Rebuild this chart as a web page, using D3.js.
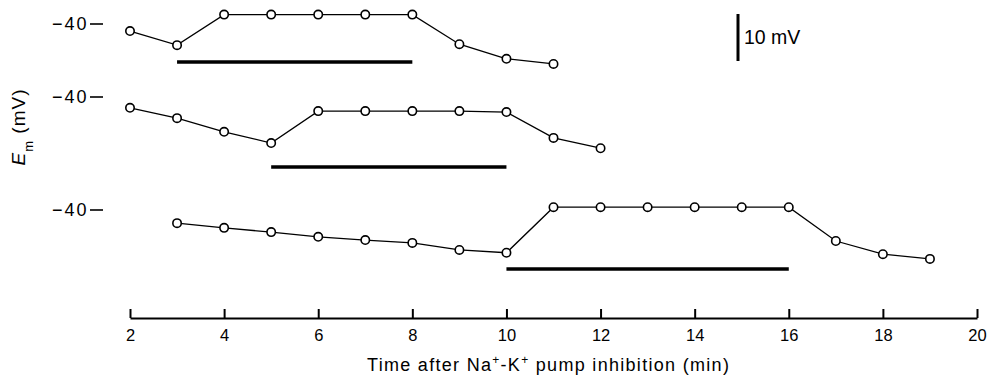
<!DOCTYPE html>
<html><head><meta charset="utf-8">
<script src="https://cdn.jsdelivr.net/npm/d3@7"></script>
<style>body{margin:0;background:#fff}svg{display:block;font-family:"Liberation Sans",Arial,sans-serif}</style>
</head><body><svg id="c" width="989" height="375"></svg>
<script>
// Data
const times1 = [2,3,4,5,6,7,8,9,10,11];
const em1 = [-41.5,-44.5,-38.0,-38.0,-38.0,-38.0,-38.0,-44.3,-47.4,-48.5];
const times2 = [2,3,4,5,6,7,8,9,10,11,12];
const em2 = [-42.3,-44.5,-47.4,-49.8,-43.0,-43.0,-43.0,-43.0,-43.2,-48.7,-50.9];
const times3 = [3,4,5,6,7,8,9,10,11,12,13,14,15,16,17,18,19];
const em3 = [-42.8,-43.8,-44.7,-45.7,-46.4,-47.0,-48.5,-49.1,-39.4,-39.4,-39.4,-39.4,-39.4,-39.4,-46.6,-49.4,-50.4];
const inhib1 = [3,8];
const inhib2 = [5,10];
const inhib3 = [10,16];
const xTicks = [2,4,6,8,10,12,14,16,18,20];
const refLevel = -40;
const scaleBarMV = 10;

const svg = d3.select("#c");
const x = d3.scaleLinear().domain([2,20]).range([130,977]);
const pxPerMV = 4.7;
function yFor(base){ return d3.scaleLinear().domain([-40,-50]).range([base, base + 10*pxPerMV]); }

const traces = [
  {t:times1, v:em1, bar:inhib1, y:yFor(24), barY:62},
  {t:times2, v:em2, bar:inhib2, y:yFor(97), barY:167},
  {t:times3, v:em3, bar:inhib3, y:yFor(210), barY:269}
];

traces.forEach(tr => {
  const pts = tr.t.map((t,i)=>[t, tr.v[i]]);
  const yy = tr.y(refLevel);
  svg.append("text").attr("x",52).attr("y",yy).attr("dy","0.36em").attr("text-anchor","start")
    .attr("font-size",18).attr("letter-spacing",2).text("\u221240");
  svg.append("line").attr("x1",90).attr("x2",103).attr("y1",yy).attr("y2",yy)
    .attr("stroke","#000").attr("stroke-width",1.6);
  svg.append("path").datum(pts)
    .attr("d", d3.line().x(d=>x(d[0])).y(d=>tr.y(d[1])))
    .attr("fill","none").attr("stroke","#000").attr("stroke-width",1.3);
  svg.selectAll(null).data(pts).enter().append("circle")
    .attr("cx",d=>x(d[0])).attr("cy",d=>tr.y(d[1])).attr("r",4.2)
    .attr("fill","#fff").attr("stroke","#000").attr("stroke-width",1.6);
  svg.append("line").attr("x1",x(tr.bar[0])).attr("x2",x(tr.bar[1]))
    .attr("y1",tr.barY).attr("y2",tr.barY).attr("stroke","#000").attr("stroke-width",3.5);
});

// scale bar
const sb = traces[0].y;
const sbTop = 14;
svg.append("line").attr("x1",738).attr("x2",738).attr("y1",sbTop)
  .attr("y2",sbTop + (sb(-50)-sb(-40))*scaleBarMV/10).attr("stroke","#000").attr("stroke-width",3);
svg.append("text").attr("x",744).attr("y",37).attr("dy","0.36em").attr("font-size",19.5).text("10 mV");

// x axis
const axisY = 318;
const ax = svg.append("g").attr("transform",`translate(0,${axisY})`)
  .call(d3.axisBottom(x).tickValues(xTicks).tickSizeInner(-9).tickSizeOuter(0).tickPadding(11).tickFormat(d3.format("d")));
ax.select(".domain").attr("stroke-width",2.2);
ax.selectAll(".tick line").attr("stroke-width",2);
ax.selectAll(".tick text").attr("font-size",16.5).attr("font-family","'Liberation Sans',Arial,sans-serif").attr("fill","#000");

const xl = svg.append("text").attr("x",367).attr("y",371).attr("text-anchor","start").attr("font-size",18).attr("letter-spacing",1.3);
xl.append("tspan").text("Time after Na");
xl.append("tspan").attr("baseline-shift","super").attr("font-size",12).text("+");
xl.append("tspan").text("-K");
xl.append("tspan").attr("baseline-shift","super").attr("font-size",12).text("+");
xl.append("tspan").text(" pump inhibition (min)");

// y label
const yl = svg.append("text").attr("transform","translate(25,127) rotate(-90)").attr("text-anchor","middle").attr("font-size",19).attr("letter-spacing",1);
yl.append("tspan").attr("font-style","italic").text("E");
yl.append("tspan").attr("baseline-shift","sub").attr("font-size",13).text("m");
yl.append("tspan").text(" (mV)");
</script></body></html>
